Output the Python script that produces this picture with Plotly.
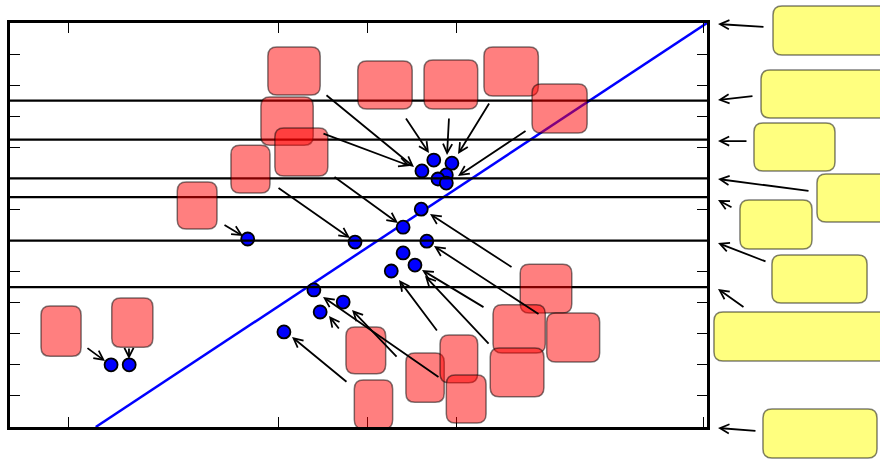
import plotly.graph_objects as go

# axis ticks (no labels on either axis)
xTicks = [0.846, 3.845, 5.122, 6.413, 9.943]
yTicks = list(range(0, 14))

# horizontal reference levels
levelLines = [10.5, 9.25, 8.0, 7.4, 6.0, 4.5]

# diagonal line
diagX = [1.23, 10.0]
diagY = [0.0, 13.0]

# blue points
dotX = [1.45, 1.71, 3.41, 4.95, 5.64, 5.90, 5.98, 5.64, 5.81, 5.47, 4.36, 4.78, 4.45, 3.93,
        6.08, 6.34, 5.91, 6.26, 6.14, 6.26]
dotY = [2.00, 2.00, 6.05, 5.95, 6.43, 7.01, 5.98, 5.60, 5.21, 5.02, 4.41, 4.02, 3.70, 3.06,
        8.59, 8.49, 8.24, 8.11, 7.98, 7.85]

# red label boxes (left, right, bottom, top)
redLeft = [3.70, 3.60, 3.80, 3.17, 2.40, 4.99, 5.94, 6.80, 7.49, 0.445,
           1.46, 4.82, 4.94, 5.68, 6.17, 6.26, 7.32, 6.93, 7.70, 6.89]
redRight = [4.45, 4.35, 4.56, 3.73, 2.97, 5.77, 6.71, 7.58, 8.28, 1.02,
            2.05, 5.39, 5.49, 6.23, 6.71, 6.83, 8.06, 7.68, 8.46, 7.66]
redBottom = [10.68, 9.07, 8.08, 7.53, 6.37, 10.23, 10.23, 10.65, 9.46, 2.28,
             2.57, 1.71, -0.06, 0.80, 1.42, 0.13, 3.67, 2.38, 2.09, 0.97]
redTop = [12.23, 10.62, 9.62, 9.07, 7.88, 11.78, 11.81, 12.23, 11.04, 3.89,
          4.15, 3.22, 1.51, 2.38, 2.96, 1.67, 5.24, 3.93, 3.67, 2.54]

# arrows from red boxes to points (tail -> tip)
redTailX = [1.090, 1.707, 3.056, 3.831, 4.634, 4.519, 4.476, 5.667, 6.299, 6.887,
            7.418, 7.217, 7.604, 6.815, 6.887, 6.141, 6.169, 5.567, 4.735, 4.849]
redTailY = [2.574, 2.574, 6.532, 7.722, 8.076, 10.714, 9.459, 9.974, 9.974, 10.457,
            9.556, 5.116, 3.604, 3.829, 2.638, 3.057, 1.577, 2.220, 3.121, 1.416]
redTipX = [1.363, 1.707, 3.343, 4.878, 5.567, 5.796, 5.739, 6.011, 6.270, 6.428,
           6.428, 6.026, 6.083, 5.911, 5.954, 5.581, 4.491, 4.907, 4.577, 4.046]
redTipY = [2.124, 2.188, 6.145, 6.081, 6.564, 8.366, 8.398, 8.816, 8.752, 8.784,
           8.076, 6.853, 5.824, 5.051, 4.858, 4.730, 4.183, 3.764, 3.571, 2.896]

# yellow label boxes outside the right edge
yelLeft = [10.947, 10.775, 10.674, 11.578, 10.473, 10.932, 10.100, 10.803]
yelRight = [12.70, 12.70, 11.836, 12.70, 11.506, 12.296, 12.70, 12.439]
yelBottom = [11.969, 9.942, 8.237, 6.596, 5.727, 3.990, 2.124, -0.997]
yelTop = [13.546, 11.486, 9.781, 8.140, 7.304, 5.534, 3.700, 0.579]

# arrows from yellow boxes to the right axis
yelTailX = [10.832, 10.674, 10.588, 11.478, 10.373, 10.861, 10.545, 10.717]
yelTailY = [12.870, 10.650, 9.202, 7.593, 7.046, 5.309, 3.829, -0.129]
yelTipX = [10.158] * 8
yelTipY = [12.967, 10.521, 9.202, 7.979, 7.304, 5.920, 4.440, -0.032]

xRange = [0, 10]
yRange = [0, 13]


def roundedPath(x0, x1, y0, y1, rx, ry):
    return (f"M{x0 + rx},{y0} L{x1 - rx},{y0} Q{x1},{y0} {x1},{y0 + ry} "
            f"L{x1},{y1 - ry} Q{x1},{y1} {x1 - rx},{y1} L{x0 + rx},{y1} "
            f"Q{x0},{y1} {x0},{y1 - ry} L{x0},{y0 + ry} Q{x0},{y0} {x0 + rx},{y0} Z")


fig = go.Figure()

fig.add_trace(go.Scatter(x=diagX, y=diagY, mode="lines",
                         line=dict(color="#0000ff", width=2.5), showlegend=False))
fig.add_trace(go.Scatter(x=dotX, y=dotY, mode="markers",
                         marker=dict(size=13, color="#0000ff", line=dict(color="black", width=1.8)),
                         showlegend=False, cliponaxis=False))

for lvl in levelLines:
    fig.add_shape(type="line", xref="paper", yref="y", x0=0, x1=1, y0=lvl, y1=lvl,
                  line=dict(color="black", width=2.2))

#red boxes, radius ~9px
plotW = 697
plotH = 404
xScale = plotW / (xRange[1] - xRange[0])
yScale = plotH / (yRange[1] - yRange[0])
for i in range(len(redLeft)):
    fig.add_shape(type="path",
                  path=roundedPath(redLeft[i], redRight[i], redBottom[i], redTop[i],
                                   9 / xScale, 9 / yScale),
                  xref="x", yref="y", fillcolor="rgba(255,0,0,0.5)",
                  line=dict(color="rgba(0,0,0,0.5)", width=1.5))

#yellow boxes sit outside the axes, so use paper coords
for i in range(len(yelLeft)):
    fig.add_shape(type="path",
                  path=roundedPath(yelLeft[i] / xRange[1], yelRight[i] / xRange[1],
                                   yelBottom[i] / yRange[1], yelTop[i] / yRange[1],
                                   9 / plotW, 9 / plotH),
                  xref="paper", yref="paper", fillcolor="rgba(255,255,0,0.5)",
                  line=dict(color="rgba(0,0,0,0.5)", width=1.5))

arrowBase = dict(showarrow=True, text="", arrowhead=5, arrowsize=1.0, arrowwidth=1.8,
                 arrowcolor="black", standoff=0, startstandoff=0)

for i in range(len(redTailX)):
    fig.add_annotation(x=redTipX[i], y=redTipY[i], ax=redTailX[i], ay=redTailY[i],
                       xref="x", yref="y", axref="x", ayref="y", **arrowBase)

#tips are off the x range, so place these in paper coords with pixel offsets
for i in range(len(yelTailX)):
    fig.add_annotation(x=yelTipX[i] / xRange[1], y=yelTipY[i] / yRange[1],
                       ax=(yelTailX[i] - yelTipX[i]) * xScale,
                       ay=-(yelTailY[i] - yelTipY[i]) * yScale,
                       xref="paper", yref="paper", axref="pixel", ayref="pixel", **arrowBase)

axisStyle = dict(showgrid=False, zeroline=False, showticklabels=False, showline=True,
                 linecolor="black", linewidth=2.5, mirror="ticks", ticks="inside",
                 ticklen=10, tickwidth=1.3, tickcolor="black")

fig.update_xaxes(range=xRange, tickvals=xTicks, **axisStyle)
fig.update_yaxes(range=yRange, tickvals=yTicks, **axisStyle)

fig.update_layout(width=880, height=459, autosize=False,
                  margin=dict(l=10, r=173, t=23, b=32),
                  plot_bgcolor="white", paper_bgcolor="white")

# drop the default body margin so the figure fills the window exactly
fig.write_html("out.html", config={"displayModeBar": False},
               post_script="document.body.style.margin='0';document.body.style.overflow='hidden';")
